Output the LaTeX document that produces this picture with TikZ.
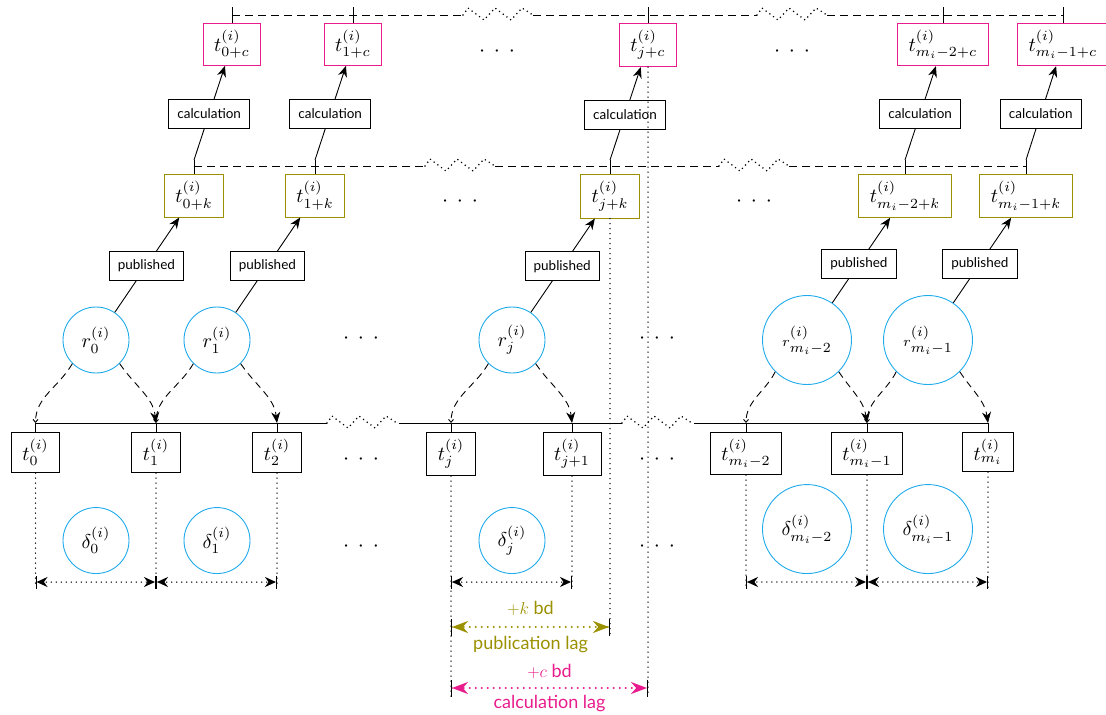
\documentclass[tikz,border=0pt]{standalone}
\usepackage[no-math]{fontspec}
\usepackage{graphicx}
\newfontfamily\lato{Lato}
\usetikzlibrary{arrows.meta}
\definecolor{pinkc}{RGB}{232,28,140}
\definecolor{olivec}{RGB}{155,145,0}
\definecolor{cyanc}{RGB}{30,170,235}
\newcommand\MM[1]{\scalebox{2}{$#1$}}
\newcommand\threedots{\scalebox{2.2}{$\cdot$\hspace{4pt}$\cdot$\hspace{4pt}$\cdot$}}
\newcommand\zigbreak[1]{\draw[zzs] (#1) -- ++(5,-7) -- ++(16,12) -- ++(11,-12) -- ++(16,12) -- ++(11,-12) -- ++(11,7);}
\begin{document}
\begin{tikzpicture}[x=1pt,y=-1pt,
  tbox/.style={draw, line width=0.9pt, inner xsep=11pt, inner ysep=7pt, anchor=north},
  pbox/.style={tbox, draw=pinkc},
  ybox/.style={tbox, draw=olivec},
  lbl/.style={draw, fill=white, line width=0.8pt, font=\lato\fontsize{13.5}{15}\selectfont, inner xsep=8.5pt, inner ysep=0pt, minimum height=29pt},
  circ/.style={circle, draw=cyanc, line width=0.9pt, minimum size=66pt, inner sep=1pt},
  bigc/.style={circ, minimum size=89pt},
  dsh/.style={line width=0.9pt, dash pattern=on 8pt off 5pt},
  dotv/.style={line width=1.5pt, dash pattern=on 0pt off 5pt, line cap=round},
  zzs/.style={line width=1.7pt, dash pattern=on 0pt off 4.6pt, line cap=round},
  darc/.style={line width=0.9pt, dash pattern=on 7pt off 5pt},
  arr/.style={line width=0.9pt, -{Stealth[length=11pt,width=9pt]}},
  dimarr/.style={dotv, {Bar[width=13pt,line width=1pt]Stealth[length=11pt,width=10pt]}-{Stealth[length=11pt,width=10pt]Bar[width=13pt,line width=1pt]}},
  lagarr/.style={line width=2.2pt, dash pattern=on 0pt off 6pt, line cap=round, {Bar[width=17pt,color=black,line width=1pt]Stealth[length=16pt,width=12pt]}-{Stealth[length=16pt,width=12pt]Bar[width=17pt,color=black,line width=1pt]}},
  dts/.style={inner sep=0pt},
  laglbl/.style={font=\lato\fontsize{18}{21}\selectfont, inner sep=0pt},
]
\useasboundingbox (0,0) rectangle (1106,715);

% ---------- r circles ----------
\node[circ] (r0) at (96,340) {\MM{r^{(i)}_{0}}};
\node[circ] (r1) at (217,340) {\MM{r^{(i)}_{1}}};
\node[circ] (rj) at (512,340) {\MM{r^{(i)}_{j}}};
\node[bigc] (rm2) at (807,340) {\MM{{\scriptstyle r}^{(i)}_{m_i-2}}};
\node[bigc] (rm1) at (928,340) {\MM{{\scriptstyle r}^{(i)}_{m_i-1}}};

% ---------- yellow (published) boxes ----------
\node[ybox] (yk0) at (194,174) {\MM{t^{(i)}_{0+k}}};
\node[ybox] (yk1) at (315,174) {\MM{t^{(i)}_{1+k}}};
\node[ybox] (ykj) at (610,174) {\MM{t^{(i)}_{j+k}}};
\node[ybox] (ykm2) at (905,174) {\MM{t^{(i)}_{m_i-2+k}}};
\node[ybox] (ykm1) at (1026,174) {\MM{t^{(i)}_{m_i-1+k}}};

% ---------- pink (calculated) boxes ----------
\node[pbox] (pc0) at (232,23) {\MM{t^{(i)}_{0+c}}};
\node[pbox] (pc1) at (353,23) {\MM{t^{(i)}_{1+c}}};
\node[pbox] (pcj) at (648,23) {\MM{t^{(i)}_{j+c}}};
\node[pbox] (pcm2) at (943,23) {\MM{t^{(i)}_{m_i-2+c}}};
\node[pbox] (pcm1) at (1063,23) {\MM{t^{(i)}_{m_i-1+c}}};

% ---------- t boxes ----------
\node[tbox] (t0) at (35.5,432) {\MM{t^{(i)}_{0}}};
\node[tbox] (t1) at (156,432) {\MM{t^{(i)}_{1}}};
\node[tbox] (t2) at (277,432) {\MM{t^{(i)}_{2}}};
\node[tbox] (tj) at (451,432) {\MM{t^{(i)}_{j}}};
\node[tbox] (tj1) at (572,432) {\MM{t^{(i)}_{j+1}}};
\node[tbox] (tm2) at (746,432) {\MM{t^{(i)}_{m_i-2}}};
\node[tbox] (tm1) at (867,432) {\MM{t^{(i)}_{m_i-1}}};
\node[tbox] (tm) at (988,432) {\MM{t^{(i)}_{m_i}}};

% ---------- delta circles ----------
\node[circ, anchor=south] (d0) at (96,574) {\MM{\delta^{(i)}_{0}}};
\node[circ, anchor=south] (d1) at (217,574) {\MM{\delta^{(i)}_{1}}};
\node[circ, anchor=south] (dj) at (512,574) {\MM{\delta^{(i)}_{j}}};
\node[bigc, anchor=south] (dm2) at (807,574) {\MM{\delta^{(i)}_{m_i-2}}};
\node[bigc, anchor=south] (dm1) at (928,574) {\MM{\delta^{(i)}_{m_i-1}}};

% ---------- dots ----------
\node[dts] (dp1) at (497,52) {\threedots};
\node[dts] (dp2) at (792,52) {\threedots};
\node[dts] (dy1) at (460,202) {\threedots};
\node[dts] (dy2) at (754,202) {\threedots};
\node[dts] (dr1) at (361,339) {\threedots};
\node[dts] (dr2) at (657,339) {\threedots};
\node[dts] (dt1) at (361,460) {\threedots};
\node[dts] (dt2) at (657,460) {\threedots};
\node[dts] (dd1) at (361,547) {\threedots};
\node[dts] (dd2) at (657,547) {\threedots};

% ---------- ticks ----------
\foreach \n in {0,1,j,m2,m1}{
  \draw[line width=0.9pt] (yk\n.north) -- ++(0,-14) coordinate (yk\n t);
  \path (yk\n.north) ++(0,-8) coordinate (yk\n d);
  \draw[line width=0.9pt] (pc\n.north) -- ++(0,-16) coordinate (pc\n t);
  \path (pc\n.north) ++(0,-8) coordinate (pc\n d);
}
\foreach \n in {0,1,2,j,j1,m2,m1,m}{
  \draw[line width=0.9pt] (t\n.north) -- ++(0,-9) coordinate (t\n l);
}

% ---------- dashed lines with breaks ----------
\coordinate (ua) at (463,15); \coordinate (ub) at (533,15);
\coordinate (uc) at (757,15); \coordinate (ud) at (827,15);
\draw[dsh] (pc0d) -- (ua); \zigbreak{ua}
\draw[dsh] (ub) -- (uc); \zigbreak{uc}
\draw[dsh] (ud) -- (pcm1d);

\coordinate (ma) at (425,166); \coordinate (mb) at (495,166);
\coordinate (mc) at (719,166); \coordinate (md) at (789,166);
\draw[dsh] (yk0d) -- (ma); \zigbreak{ma}
\draw[dsh] (mb) -- (mc); \zigbreak{mc}
\draw[dsh] (md) -- (ykm1d);

\coordinate (la) at (327,423); \coordinate (lb) at (399,423);
\coordinate (lc) at (622,423); \coordinate (ld) at (694,423);
\draw[line width=0.9pt] (t0l) -- (la); \zigbreak{la}
\draw[line width=0.9pt] (lb) -- (lc); \zigbreak{lc}
\draw[line width=0.9pt] (ld) -- (tml);

% ---------- published / calculation ----------
\foreach \n/\p in {0/.49,1/.49,j/.49,m2/.46,m1/.46}{
  \draw[arr] (r\n) -- node[lbl,pos=\p]{published} (yk\n);
  \draw[arr] (yk\n t) -- node[lbl,pos=.49]{calculation} (pc\n);
}

% ---------- dashed arcs r -> t ----------
\foreach \r/\a/\b in {0/0/1, 1/1/2, j/j/j1}{
  \draw[darc, -{Straight Barb[length=3pt,width=5pt]}] (r\r.south west) .. controls +(-14,24) and +(0,-26) .. (t\a l);
  \draw[darc, -{Stealth[length=11pt,width=9pt]}] (r\r.south east) .. controls +(15,22) and +(-3,-26) .. (t\b l);
}
\foreach \r/\a/\b in {m2/m2/m1, m1/m1/m}{
  \draw[darc, -{Straight Barb[length=3pt,width=5pt]}] (r\r.south west) .. controls +(-10,20) and +(0,-22) .. (t\a l);
  \draw[darc, -{Stealth[length=11pt,width=9pt]}] (r\r.south east) .. controls +(12,18) and +(-3,-22) .. (t\b l);
}

% ---------- dotted verticals ----------
\foreach \n in {0,1,2,j1,m2,m1,m}{
  \draw[dotv] (t\n.south) -- (t\n.south |- 0,588) coordinate (t\n b);
}
\draw[dotv] (tj.south) -- (tj.south |- 0,697) coordinate (tjb);
\draw[dotv] (ykj.south) -- (ykj.south |- 0,635) coordinate (ykjb);
\draw[dotv] (pcj.south) -- (pcj.south |- 0,697) coordinate (pcjb);

% ---------- interval arrows ----------
\draw[dimarr] (t0.south |- 0,582) -- (t1.south |- 0,582);
\draw[dimarr] (t1.south |- 0,582) -- (t2.south |- 0,582);
\draw[dimarr] (tj.south |- 0,582) -- (tj1.south |- 0,582);
\draw[dimarr] (tm2.south |- 0,582) -- (tm1.south |- 0,582);
\draw[dimarr] (tm1.south |- 0,582) -- (tm.south |- 0,582);

% ---------- lags ----------
\draw[lagarr, olivec] (tj.south |- 0,627) -- (ykj.south |- 0,627)
  node[midway, laglbl, olivec, yshift=19pt] (kbd) {$+k$ bd}
  node[midway, laglbl, olivec, yshift=-18pt] (plag) {publication lag};
\draw[lagarr, pinkc] (tj.south |- 0,688) -- (pcj.south |- 0,688)
  node[midway, laglbl, pinkc, yshift=17pt] (cbd) {$+c$ bd}
  node[midway, laglbl, pinkc, yshift=-16pt] (clag) {calculation lag};
\end{tikzpicture}
\end{document}
